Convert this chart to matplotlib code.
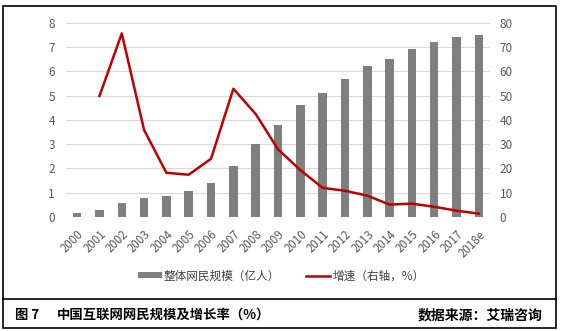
import matplotlib
matplotlib.use("Agg")
import matplotlib.pyplot as plt
from matplotlib.patches import Rectangle
from matplotlib.lines import Line2D

plt.rcParams['font.family'] = ['Noto Sans CJK SC', 'DejaVu Sans']

years = ['2000', '2001', '2002', '2003', '2004', '2005', '2006', '2007', '2008', '2009',
         '2010', '2011', '2012', '2013', '2014', '2015', '2016', '2017', '2018e']
users = [0.18, 0.29, 0.59, 0.79, 0.86, 1.07, 1.41, 2.11, 3.0, 3.79,
         4.6, 5.1, 5.68, 6.21, 6.5, 6.91, 7.2, 7.41, 7.5]
growth_years = years[1:]
growth = [49.8, 75.6, 35.8, 18.2, 17.4, 24.0, 52.8, 42.4, 27.9,
          19.3, 12.0, 10.8, 8.8, 5.1, 5.5, 4.2, 2.6, 1.4]

W, H = 565, 331
fig = plt.figure(figsize=(W / 100, H / 100), dpi=100)
ax = fig.add_axes([66 / W, 1 - 217 / H, 424 / W, (217 - 22.7) / H])

x = list(range(len(years)))
ax.bar(x, users, width=0.38, color='#7f7f7f', zorder=2, label='整体网民规模（亿人）')
ax.set_xlim(-0.5, len(years) - 0.5)
ax.set_ylim(0, 8)
ax.set_yticks(range(0, 9))
ax.grid(axis='y', color='#d9d9d9', linewidth=0.8, zorder=0)
ax.set_axisbelow(True)
for s in ax.spines.values():
    s.set_visible(False)
ax.set_xticks(x)
ax.set_xticklabels(years, rotation=45, ha='right', rotation_mode='anchor')
ax.tick_params(axis='both', length=0, colors='#595959', labelsize=8.5)
ax.tick_params(axis='x', labelsize=8.3, pad=8)
ax.tick_params(axis='y', pad=8)

ax2 = ax.twinx()
gx = [years.index(y) for y in growth_years]
ax2.plot(gx, growth, color='#c00000', linewidth=1.8, label='增速（右轴，%）', zorder=3)
ax2.set_ylim(0, 80)
ax2.set_yticks(range(0, 90, 10))
for s in ax2.spines.values():
    s.set_visible(False)
ax2.tick_params(axis='y', length=0, colors='#595959', labelsize=8.5, pad=7)

h1, l1 = ax.get_legend_handles_labels()
h2, l2 = ax2.get_legend_handles_labels()
fig.legend(h1 + h2, l1 + l2, loc='center', bbox_to_anchor=(281 / W, 1 - 276 / H),
           ncol=2, frameon=False, fontsize=8.4, handlelength=2.1, handleheight=0.45,
           columnspacing=2.2, handletextpad=0.15, labelcolor='#404040')

# outer frame and caption separator
fig.add_artist(Rectangle((3 / W, 1 - 328 / H), 553 / W, 322 / H, transform=fig.transFigure,
                         fill=False, edgecolor='black', linewidth=1.2))
fig.add_artist(Line2D([3 / W, 556 / W], [1 - 299 / H, 1 - 299 / H], transform=fig.transFigure,
                      color='black', linewidth=1.2))

fig.text(15 / W, 1 - 315 / H, '图 7', fontsize=9.6, fontweight='bold', va='center')
fig.text(57 / W, 1 - 315 / H, '中国互联网网民规模及增长率（%）', fontsize=9.6, fontweight='bold', va='center')
fig.text(418 / W, 1 - 315 / H, '数据来源：艾瑞咨询', fontsize=10, fontweight='bold', va='center')

fig.savefig('out.png', dpi=100)
